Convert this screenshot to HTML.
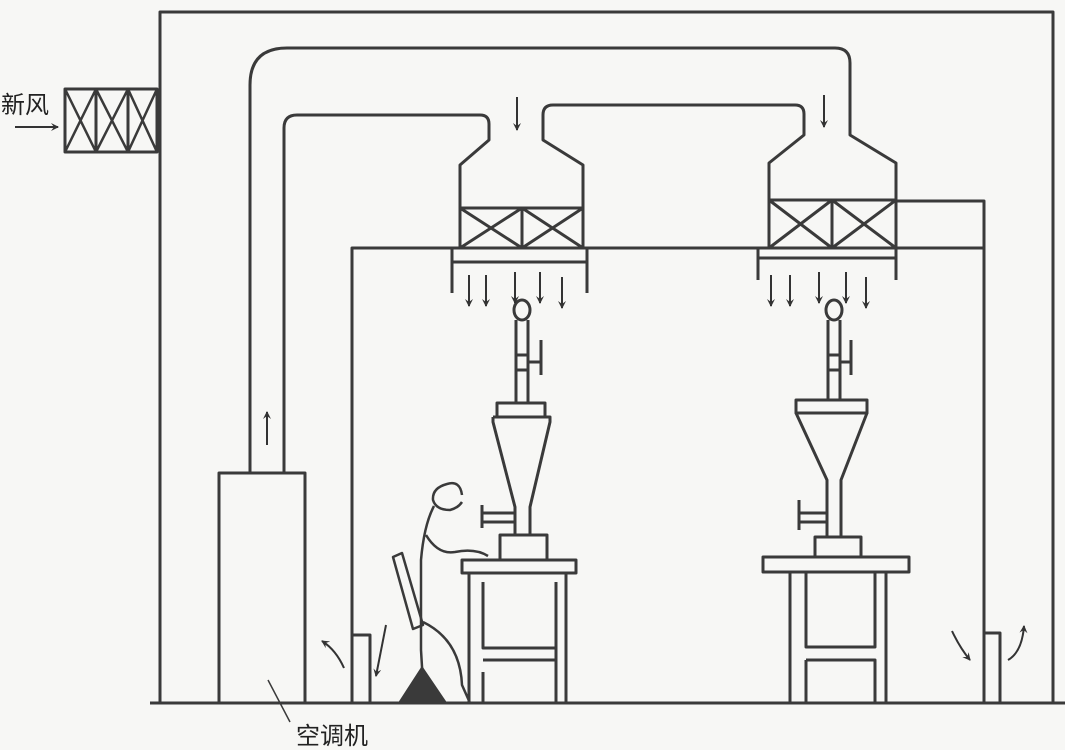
<!DOCTYPE html>
<html><head><meta charset="utf-8"><style>
html,body{margin:0;padding:0;background:#f7f7f5;}
svg{display:block}
text{font-family:"Liberation Sans","Noto Sans CJK SC",sans-serif;fill:#222}
</style></head><body>
<svg width="1065" height="750" viewBox="0 0 1065 750">
<defs><marker id="ah" markerWidth="8" markerHeight="8" refX="7" refY="4" orient="auto" markerUnits="userSpaceOnUse"><path d="M0,0 L8,4 L0,8 L3,4 Z" fill="#333"/></marker></defs>
<g fill="none" stroke="#3a3a3a" stroke-width="3" stroke-linejoin="round">
<path d="M160,703 L160,12 L1053,12 L1053,703"/>
<line x1="150" y1="703" x2="1065" y2="703"/>
<g>
<rect x="65" y="89" width="92" height="63"/>
<line x1="96" y1="89" x2="96" y2="152"/><line x1="128" y1="89" x2="128" y2="152"/>
<path d="M65,89 L96,152 M96,89 L65,152 M96,89 L128,152 M128,89 L96,152 M128,89 L157,152 M157,89 L128,152" stroke-width="2.5"/>
</g>
<path d="M250,473 L250,85 Q250,48 287,48 L835,48 Q850,48 850,63 L850,135 L896,163 L896,200"/>
<path d="M284,473 L284,128 Q284,115 297,115 L480,115 Q489,115 489,124 L489,140 L460,165 L460,208"/>
<path d="M583,208 L583,165 L543,140 L543,115 Q543,105 553,105 L795,105 Q804,105 804,114 L804,135 L769,163 L769,200"/>
<g>
<rect x="460" y="208" width="123" height="40"/><line x1="522" y1="208" x2="522" y2="248"/>
<path d="M460,208 L522,248 M522,208 L460,248 M522,208 L583,248 M583,208 L522,248"/>
</g>
<g>
<rect x="769" y="200" width="127" height="48"/><line x1="832" y1="200" x2="832" y2="248"/>
<path d="M769,200 L832,248 M832,200 L769,248 M832,200 L896,248 M896,200 L832,248"/>
</g>
<path d="M352,703 L352,248 L984,248 L984,703 M896,201 L984,201 L984,248"/>
<path d="M452,248 L452,293 M587,248 L587,293 M452,262 L587,262"/>
<path d="M758,248 L758,280 M896,248 L896,280 M758,258 L896,258"/>
<rect x="219" y="473" width="86" height="230"/>
<path d="M352,635 L370,635 L370,703"/>
<path d="M984,633 L1000,633 L1000,703"/>
<g>
<ellipse cx="522" cy="310" rx="8" ry="10"/>
<path d="M516,320 L516,403 M528,320 L528,403 M516,355 L528,355 M516,370 L528,370 M528,362 L541,362 M541,340 L541,375"/>
<rect x="497" y="403" width="48" height="14"/>
<path d="M493,417 L550,417 L550,422 L530,507 L530,535 M493,417 L493,422 L515,507 L515,535"/>
<path d="M515,513 L482,513 M482,505 L482,528 M482,522 L515,522"/>
<rect x="500" y="535" width="47" height="25"/>
<rect x="462" y="560" width="114" height="13"/>
<path d="M469,573 L469,703 M566,573 L566,703 M483,582 L483,648 L556,648 M556,582 L556,703 M483,660 L556,660 M483,672 L483,703"/>
</g>
<g>
<ellipse cx="834" cy="310" rx="8" ry="10"/>
<path d="M828,320 L828,400 M840,320 L840,400 M828,355 L840,355 M828,370 L840,370 M840,362 L851,362 M851,340 L851,375"/>
<rect x="796" y="400" width="71" height="13"/>
<path d="M796,413 L827,480 L827,537 M867,413 L841,480 L841,537"/>
<path d="M827,513 L799,513 M799,500 L799,530 M799,522 L827,522"/>
<rect x="815" y="537" width="46" height="20"/>
<rect x="763" y="557" width="146" height="15"/>
<path d="M790,572 L790,703 M886,572 L886,703 M806,573 L806,647 L875,647 L875,573 M806,660 L875,660 L875,703 M806,660 L806,703"/>
</g>
<g stroke-width="2.5">
<path d="M462,495 Q460,480 447,484 Q432,488 433,500 Q436,510 450,510 Q458,508 462,502"/>
<path d="M434,506 Q424,525 421,560 L421,650 L424,700"/>
<path d="M426,535 Q438,555 455,552 Q475,548 488,556"/>
<path d="M423,622 Q460,640 462,685 L470,703"/>
<path d="M393,557 L402,553 L423,625 L413,629 Z"/>
<path d="M400,702 L422,668 L445,702 Z" fill="#3a3a3a"/>
</g>
<line x1="268" y1="680" x2="290" y2="722" stroke-width="1.5"/>
</g>
<g stroke="#333" stroke-width="2" fill="none" marker-end="url(#ah)">
<line x1="15" y1="127" x2="58" y2="127"/>
<line x1="267" y1="445" x2="267" y2="412"/>
<line x1="517" y1="97" x2="517" y2="130"/>
<line x1="824" y1="95" x2="824" y2="127"/>
<line x1="469" y1="275" x2="469" y2="306"/><line x1="486" y1="275" x2="486" y2="306"/><line x1="515" y1="272" x2="515" y2="303"/><line x1="540" y1="272" x2="540" y2="303"/><line x1="562" y1="277" x2="562" y2="308"/>
<line x1="771" y1="275" x2="771" y2="306"/><line x1="790" y1="275" x2="790" y2="306"/><line x1="819" y1="272" x2="819" y2="303"/><line x1="846" y1="272" x2="846" y2="303"/><line x1="866" y1="277" x2="866" y2="308"/>
<path d="M344,668 Q336,650 322,641"/>
<line x1="386" y1="625" x2="376" y2="676"/>
<path d="M952,631 Q960,648 970,660"/>
<path d="M1008,660 Q1022,652 1024,626"/>
</g>
<text x="1" y="113" font-size="24">新风</text>
<text x="296" y="744" font-size="24">空调机</text>
</svg>
</body></html>
